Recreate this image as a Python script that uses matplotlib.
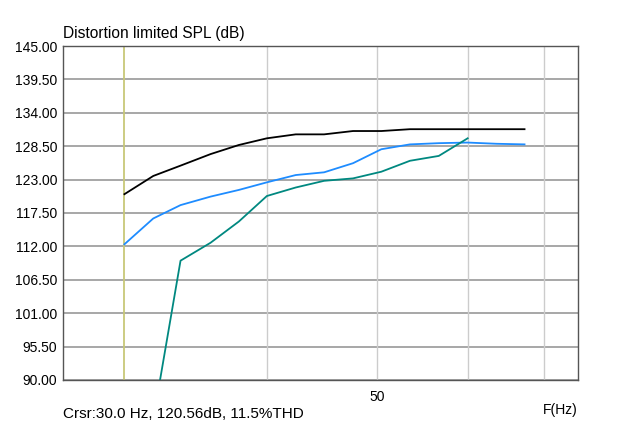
import numpy as np
import matplotlib.pyplot as plt

plt.rcParams['font.family'] = ['Liberation Sans', 'DejaVu Sans']

# 1/12 octave steps starting at 30 Hz
freq = [30.0, 31.8, 33.6, 35.7, 37.8, 40.0, 42.4, 44.9, 47.6, 50.4, 53.4, 56.6, 60.0, 63.6, 67.3]

spl_black = [120.6, 123.6, 125.3, 127.2, 128.7, 129.8, 130.45, 130.45, 131.0, 131.0, 131.3, 131.3, 131.3, 131.3, 131.3]
spl_blue = [112.35, 116.6, 118.8, 120.2, 121.3, 122.55, 123.75, 124.2, 125.7, 128.0, 128.8, 129.0, 129.1, 128.9, 128.8]
spl_teal = [78.0, 83.5, 109.65, 112.6, 116.1, 120.3, 121.7, 122.8, 123.2, 124.3, 126.1, 126.9, 129.8]

yticks = [90.0, 95.5, 101.0, 106.5, 112.0, 117.5, 123.0, 128.5, 134.0, 139.5, 145.0]
xgrid = [40, 50, 60, 70]
cursor_f = 30.0

fig = plt.figure(figsize=(6.4, 4.26), dpi=100)
ax = fig.add_axes([0.0984, 0.108, 0.805, 0.784])

ax.set_xscale('log')
ax.set_xlim(26.5, 75.0)
ax.set_ylim(90, 145)

# grid
for y in yticks:
    ax.axhline(y, color='#a0a0a0', lw=1.3, zorder=1)
for x in xgrid:
    ax.axvline(x, color='#cccccc', lw=1.0, zorder=1)
ax.axvline(cursor_f, color='#c8c878', lw=1.3, zorder=2)

ax.plot(freq, spl_black, color='black', lw=1.3, zorder=3)
ax.plot(freq, spl_blue, color='#1e8cff', lw=1.3, zorder=3)
ax.plot(freq[:len(spl_teal)], spl_teal, color='#008880', lw=1.3, zorder=3)

ax.set_yticks(yticks)
ax.set_yticklabels(['%.2f' % v for v in yticks], fontsize=10)
ax.set_xticks([50])
ax.set_xticklabels(['50'], fontsize=10)
ax.xaxis.set_minor_locator(plt.NullLocator())
ax.tick_params(length=0, pad=4, colors='black')
ax.tick_params(axis='x', pad=7)

for s in ax.spines.values():
    s.set_color('#555555')
    s.set_linewidth(1.0)

fig.text(0.0984, 0.910, 'Distortion limited SPL (dB)', fontsize=11.2, ha='left', va='baseline')
fig.text(0.903, 0.028, 'F(Hz)', fontsize=10, ha='right', va='baseline')
fig.text(0.0984, 0.019, 'Crsr:30.0 Hz, 120.56dB, 11.5%THD', fontsize=11, ha='left', va='baseline')

fig.savefig('out.png', dpi=100)
